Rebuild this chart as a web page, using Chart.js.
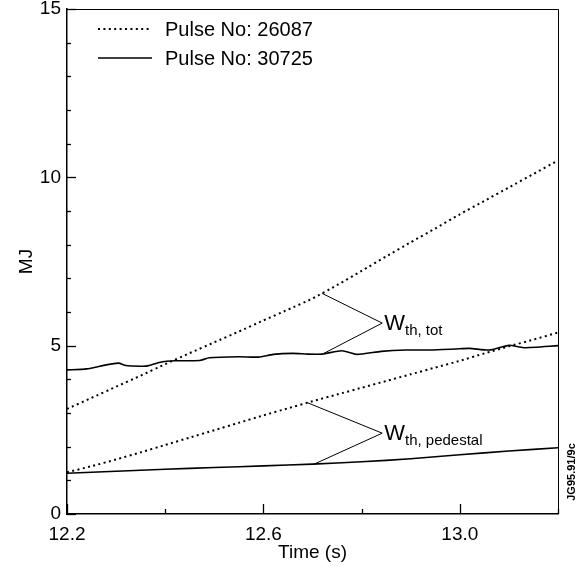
<!DOCTYPE html>
<html>
<head>
<meta charset="utf-8">
<script src="https://cdn.jsdelivr.net/npm/chart.js@4.4.1/dist/chart.umd.min.js"></script>
<style>
  html, body { margin: 0; padding: 0; background: #fff; }
  #wrap { width: 580px; height: 568px; }
</style>
</head>
<body>
<div id="wrap"><canvas id="c" width="580" height="568"></canvas></div>
<script>
// Stored energy W_th (MJ) versus time (s) for two JET pulses.
const timeFine = [12.20, 12.25, 12.30, 12.35, 12.40, 12.45, 12.50, 12.55, 12.60, 12.65, 12.70,
                  12.75, 12.80, 12.85, 12.90, 12.95, 13.00, 13.05, 13.10, 13.15, 13.20];
const tot26087 = [3.12, 3.45, 3.78, 4.11, 4.45, 4.78, 5.10, 5.42, 5.75, 6.07, 6.40,
                  6.80, 7.22, 7.65, 8.07, 8.48, 8.90, 9.30, 9.70, 10.10, 10.50];
const ped26087 = [1.24, 1.42, 1.62, 1.83, 2.05, 2.27, 2.49, 2.71, 2.93, 3.14, 3.35,
                  3.55, 3.75, 3.95, 4.15, 4.35, 4.55, 4.77, 4.98, 5.18, 5.39];

const timeTot30725 = [12.20, 12.24, 12.28, 12.305, 12.32, 12.35, 12.365, 12.39, 12.42, 12.47,
                      12.49, 12.55, 12.59, 12.62, 12.66, 12.69, 12.72, 12.76, 12.79, 12.84,
                      12.89, 12.94, 12.99, 13.02, 13.06, 13.10, 13.13, 13.20];
const tot30725 = [4.28, 4.31, 4.43, 4.48, 4.41, 4.39, 4.40, 4.51, 4.55, 4.56,
                  4.64, 4.67, 4.66, 4.74, 4.77, 4.75, 4.75, 4.85, 4.74, 4.83,
                  4.87, 4.87, 4.90, 4.92, 4.87, 5.01, 4.94, 5.00];
const timePed30725 = [12.2, 12.3, 12.4, 12.5, 12.6, 12.7, 12.8, 12.9, 13.0, 13.1, 13.2];
const ped30725 = [1.21, 1.27, 1.33, 1.38, 1.43, 1.48, 1.55, 1.64, 1.76, 1.87, 1.97];

const pulseLabels = ['Pulse No: 26087', 'Pulse No: 30725'];
const xTickLabels = ['12.2', '12.6', '13.0'];
const yTickLabels = ['0', '5', '10', '15'];

// Callout leaders in data units: [upper curve point, label vertex, lower curve point]
const calloutTot = [[12.720, 6.55], [12.842, 5.67], [12.723, 4.77]];
const calloutPed = [[12.689, 3.31], [12.842, 2.40], [12.703, 1.48]];
const calloutText = [
  { main: 'W', sub: 'th, tot' },
  { main: 'W', sub: 'th, pedestal' }
];

const FONT = "'Liberation Sans', Arial, Helvetica, sans-serif";
Chart.defaults.font.family = FONT;
Chart.defaults.color = '#000';

const pairs = (xs, ys) => xs.map((x, i) => ({ x: x, y: ys[i] }));
const DOT = [2, 3.4];

const datasets = [
  { label: pulseLabels[0], data: pairs(timeFine, tot26087), borderDash: DOT, borderWidth: 2 },
  { label: pulseLabels[0], data: pairs(timeFine, ped26087), borderDash: DOT, borderWidth: 2 },
  { label: pulseLabels[1], data: pairs(timeTot30725, tot30725), borderDash: [], borderWidth: 1.6 },
  { label: pulseLabels[1], data: pairs(timePed30725, ped30725), borderDash: [], borderWidth: 1.6 }
].map(d => Object.assign({
  borderColor: '#000', backgroundColor: '#000', pointRadius: 0, tension: 0.2, fill: false
}, d));

// Inward tick marks plus the thin top/right frame
const frameTicks = {
  id: 'frameTicks',
  afterDatasetsDraw(chart) {
    const { ctx, chartArea: a, scales: { x, y } } = chart;
    ctx.save();
    ctx.strokeStyle = '#000';
    ctx.lineWidth = 1;
    ctx.beginPath();
    ctx.moveTo(a.left, a.top + 0.5);
    ctx.lineTo(a.right + 0.5, a.top + 0.5);
    ctx.lineTo(a.right + 0.5, a.bottom);
    ctx.stroke();
    ctx.lineWidth = 1.3;
    x.ticks.forEach(t => {
      const px = Math.round(x.getPixelForValue(t.value)) + 0.5;
      const len = xTickLabels.includes(t.value.toFixed(1)) ? 10 : 5;
      ctx.beginPath();
      ctx.moveTo(px, a.bottom);
      ctx.lineTo(px, a.bottom - len);
      ctx.stroke();
    });
    y.ticks.forEach(t => {
      const py = Math.round(y.getPixelForValue(t.value)) + 0.5;
      const len = yTickLabels.includes(String(t.value)) ? 9 : 4;
      ctx.beginPath();
      ctx.moveTo(a.left, py);
      ctx.lineTo(a.left + len, py);
      ctx.stroke();
    });
    ctx.restore();
  }
};

// Leader lines with subscripted labels
const callouts = {
  id: 'callouts',
  afterDatasetsDraw(chart) {
    const { ctx, scales: { x, y } } = chart;
    ctx.save();
    ctx.strokeStyle = '#000';
    ctx.fillStyle = '#000';
    ctx.lineWidth = 1;
    [calloutTot, calloutPed].forEach((pts, i) => {
      const p = pts.map(([t, v]) => [x.getPixelForValue(t), y.getPixelForValue(v)]);
      ctx.beginPath();
      ctx.moveTo(p[0][0], p[0][1]);
      ctx.lineTo(p[1][0], p[1][1]);
      ctx.lineTo(p[2][0], p[2][1]);
      ctx.stroke();
      const tx = p[1][0] + 2, base = p[1][1] + 7;
      ctx.textBaseline = 'alphabetic';
      ctx.textAlign = 'left';
      ctx.font = '22px ' + FONT;
      ctx.fillText(calloutText[i].main, tx, base);
      const w = ctx.measureText(calloutText[i].main).width;
      ctx.font = '15px ' + FONT;
      ctx.fillText(calloutText[i].sub, tx + w, base + 5);
    });
    ctx.restore();
  }
};

// Legend drawn inside the plot frame
const innerLegend = {
  id: 'innerLegend',
  afterDraw(chart) {
    const { ctx, chartArea: a } = chart;
    const styles = [datasets[0], datasets[2]];
    ctx.save();
    ctx.fillStyle = '#000';
    ctx.strokeStyle = '#000';
    ctx.font = '20px ' + FONT;
    ctx.textBaseline = 'middle';
    ctx.textAlign = 'left';
    pulseLabels.forEach((lab, i) => {
      const cy = a.top + 20 + i * 29;
      ctx.lineWidth = styles[i].borderWidth;
      ctx.setLineDash(styles[i].borderDash);
      ctx.beginPath();
      ctx.moveTo(a.left + 31, cy);
      ctx.lineTo(a.left + 85, cy);
      ctx.stroke();
      ctx.setLineDash([]);
      ctx.fillText(lab, a.left + 98, cy + 1);
    });
    // figure reference code along the right edge
    ctx.font = 'bold 11px ' + FONT;
    ctx.translate(a.right + 14, 472);
    ctx.rotate(-Math.PI / 2);
    ctx.textAlign = 'center';
    ctx.fillText('JG95.91/9c', 0, 0);
    ctx.restore();
  }
};

new Chart(document.getElementById('c'), {
  type: 'line',
  data: { datasets: datasets },
  options: {
    responsive: false,
    animation: false,
    devicePixelRatio: 1,
    layout: { padding: { top: 9, right: 22, left: 0, bottom: 0 } },
    plugins: { legend: { display: false }, tooltip: { enabled: false } },
    scales: {
      x: {
        type: 'linear',
        min: 12.2, max: 13.2,
        afterFit(s) { s.height = 54; s.paddingLeft = 0; s.paddingRight = 0; },
        grid: { display: false, drawTicks: false },
        border: { display: true, color: '#000', width: 1.5 },
        ticks: {
          stepSize: 0.2, autoSkip: false, maxRotation: 0, padding: 9,
          font: { size: 19 }, color: '#000',
          callback(v) {
            const s = Number(v).toFixed(1);
            return xTickLabels.includes(s) ? s : '';
          }
        },
        title: { display: true, text: 'Time (s)', font: { size: 19 }, color: '#000', padding: { top: 0, bottom: 4 } }
      },
      y: {
        type: 'linear',
        min: 0, max: 15,
        afterFit(s) { s.width = 67; s.paddingTop = 0; s.paddingBottom = 0; },
        grid: { display: false, drawTicks: false },
        border: { display: true, color: '#000', width: 1.5 },
        ticks: {
          stepSize: 1, autoSkip: false, padding: 6,
          font: { size: 19 }, color: '#000',
          callback(v) {
            const s = String(v);
            return yTickLabels.includes(s) ? s : '';
          }
        },
        title: { display: true, text: 'MJ', font: { size: 19 }, color: '#000', padding: { top: 15, bottom: 0 } }
      }
    }
  },
  plugins: [frameTicks, callouts, innerLegend]
});
</script>
</body>
</html>
